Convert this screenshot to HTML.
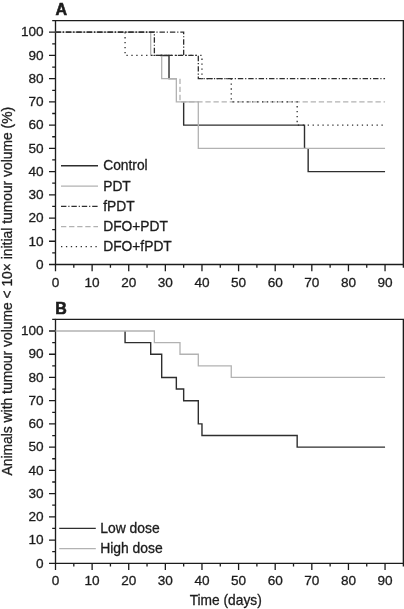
<!DOCTYPE html>
<html><head><meta charset="utf-8"><style>
html,body{margin:0;padding:0;background:#fff;}
svg{display:block;will-change:transform;opacity:0.999;filter:blur(0.3px);}
text{font-family:"Liberation Sans",sans-serif;font-size:13.6px;fill:#1c1c1c;stroke:#1c1c1c;stroke-width:0.3px;}
</style></head><body>
<svg width="404" height="609" viewBox="0 0 404 609">
<rect width="404" height="609" fill="#fff"/>
<path d="M55.5 264.5H403.36V20.59H55.5Z" fill="none" stroke="#1c1c1c" stroke-width="1.35"/>
<path d="M49 264.5H55.5M49 241.27H55.5M49 218.04H55.5M49 194.81H55.5M49 171.58H55.5M49 148.35H55.5M49 125.12H55.5M49 101.89H55.5M49 78.66H55.5M49 55.43H55.5M49 32.2H55.5M52.2 252.88H55.5M52.2 229.66H55.5M52.2 206.43H55.5M52.2 183.19H55.5M52.2 159.97H55.5M52.2 136.74H55.5M52.2 113.5H55.5M52.2 90.28H55.5M52.2 67.05H55.5M52.2 43.81H55.5M52.2 20.59H55.5M55.5 264.5V271.3M92.12 264.5V271.3M128.73 264.5V271.3M165.35 264.5V271.3M201.97 264.5V271.3M238.59 264.5V271.3M275.2 264.5V271.3M311.82 264.5V271.3M348.44 264.5V271.3M385.05 264.5V271.3M73.81 264.5V267.8M110.43 264.5V267.8M147.04 264.5V267.8M183.66 264.5V267.8M220.28 264.5V267.8M256.89 264.5V267.8M293.51 264.5V267.8M330.13 264.5V267.8M366.74 264.5V267.8M403.36 264.5V267.8" fill="none" stroke="#1c1c1c" stroke-width="1.3"/>
<text x="43.6" y="268.75" text-anchor="end">0</text>
<text x="43.6" y="245.52" text-anchor="end">10</text>
<text x="43.6" y="222.29" text-anchor="end">20</text>
<text x="43.6" y="199.06" text-anchor="end">30</text>
<text x="43.6" y="175.83" text-anchor="end">40</text>
<text x="43.6" y="152.6" text-anchor="end">50</text>
<text x="43.6" y="129.37" text-anchor="end">60</text>
<text x="43.6" y="106.14" text-anchor="end">70</text>
<text x="43.6" y="82.91" text-anchor="end">80</text>
<text x="43.6" y="59.68" text-anchor="end">90</text>
<text x="43.6" y="36.45" text-anchor="end">100</text>
<text x="55.5" y="286.5" text-anchor="middle">0</text>
<text x="92.12" y="286.5" text-anchor="middle">10</text>
<text x="128.73" y="286.5" text-anchor="middle">20</text>
<text x="165.35" y="286.5" text-anchor="middle">30</text>
<text x="201.97" y="286.5" text-anchor="middle">40</text>
<text x="238.59" y="286.5" text-anchor="middle">50</text>
<text x="275.2" y="286.5" text-anchor="middle">60</text>
<text x="311.82" y="286.5" text-anchor="middle">70</text>
<text x="348.44" y="286.5" text-anchor="middle">80</text>
<text x="385.05" y="286.5" text-anchor="middle">90</text>
<path d="M55.5 563.3H403.36V319.38H55.5Z" fill="none" stroke="#1c1c1c" stroke-width="1.35"/>
<path d="M49 563.3H55.5M49 540.07H55.5M49 516.84H55.5M49 493.61H55.5M49 470.38H55.5M49 447.15H55.5M49 423.92H55.5M49 400.69H55.5M49 377.46H55.5M49 354.23H55.5M49 331H55.5M52.2 551.68H55.5M52.2 528.45H55.5M52.2 505.22H55.5M52.2 481.99H55.5M52.2 458.76H55.5M52.2 435.53H55.5M52.2 412.3H55.5M52.2 389.07H55.5M52.2 365.84H55.5M52.2 342.61H55.5M52.2 319.38H55.5M55.5 563.3V570.1M92.12 563.3V570.1M128.73 563.3V570.1M165.35 563.3V570.1M201.97 563.3V570.1M238.59 563.3V570.1M275.2 563.3V570.1M311.82 563.3V570.1M348.44 563.3V570.1M385.05 563.3V570.1M73.81 563.3V566.6M110.43 563.3V566.6M147.04 563.3V566.6M183.66 563.3V566.6M220.28 563.3V566.6M256.89 563.3V566.6M293.51 563.3V566.6M330.13 563.3V566.6M366.74 563.3V566.6M403.36 563.3V566.6" fill="none" stroke="#1c1c1c" stroke-width="1.3"/>
<text x="43.6" y="567.55" text-anchor="end">0</text>
<text x="43.6" y="544.32" text-anchor="end">10</text>
<text x="43.6" y="521.09" text-anchor="end">20</text>
<text x="43.6" y="497.86" text-anchor="end">30</text>
<text x="43.6" y="474.63" text-anchor="end">40</text>
<text x="43.6" y="451.4" text-anchor="end">50</text>
<text x="43.6" y="428.17" text-anchor="end">60</text>
<text x="43.6" y="404.94" text-anchor="end">70</text>
<text x="43.6" y="381.71" text-anchor="end">80</text>
<text x="43.6" y="358.48" text-anchor="end">90</text>
<text x="43.6" y="335.25" text-anchor="end">100</text>
<text x="55.5" y="584.5" text-anchor="middle">0</text>
<text x="92.12" y="584.5" text-anchor="middle">10</text>
<text x="128.73" y="584.5" text-anchor="middle">20</text>
<text x="165.35" y="584.5" text-anchor="middle">30</text>
<text x="201.97" y="584.5" text-anchor="middle">40</text>
<text x="238.59" y="584.5" text-anchor="middle">50</text>
<text x="275.2" y="584.5" text-anchor="middle">60</text>
<text x="311.82" y="584.5" text-anchor="middle">70</text>
<text x="348.44" y="584.5" text-anchor="middle">80</text>
<text x="385.05" y="584.5" text-anchor="middle">90</text>
<path d="M160.22 55.43H169.01V78.66H176.34" fill="none" stroke="#2e2e2e" stroke-width="1.4"/>
<path d="M183.66 101.89H183.66V125.12H304.5V148.35H305.59" fill="none" stroke="#2e2e2e" stroke-width="1.4"/>
<path d="M308.16 148.35H308.16V171.58H385.05" fill="none" stroke="#2e2e2e" stroke-width="1.4"/>
<path d="M55.5 32.2H150.7V55.43H161.69V78.66H176.34V101.89H198.31V148.35H385.05" fill="none" stroke="#b2b2b2" stroke-width="1.3"/>
<path d="M55.5 32.2H154.37V55.43H183.66" fill="none" stroke="#2e2e2e" stroke-width="1.3" stroke-dasharray="5.4 1.9 1.2 1.9"/>
<path d="M55.5 32.2H183.66V55.43H198.31V78.66H385.05" fill="none" stroke="#2e2e2e" stroke-width="1.3" stroke-dasharray="5.4 1.9 1.2 1.9"/>
<path d="M180 78.66V101.89H385.05" fill="none" stroke="#b2b2b2" stroke-width="1.3" stroke-dasharray="5.3 2.8"/>
<path d="M125.07 32.2H125.07V55.43H201.97V78.66H231.26V101.89H297.17V125.12H385.05" fill="none" stroke="#2e2e2e" stroke-width="1.3" stroke-dasharray="1.3 3.62"/>
<path d="M61 165.7H98" fill="none" stroke="#2e2e2e" stroke-width="1.4"/>
<text x="103.2" y="170.4" style="font-size:13.8px">Control</text>
<path d="M61 186.2H98" fill="none" stroke="#b2b2b2" stroke-width="1.3"/>
<text x="103.2" y="190.9" style="font-size:13.8px">PDT</text>
<path d="M61 206.4H98" fill="none" stroke="#2e2e2e" stroke-width="1.3" stroke-dasharray="5.4 1.9 1.2 1.9"/>
<text x="103.2" y="211.1" style="font-size:13.8px">fPDT</text>
<path d="M61 226.6H98" fill="none" stroke="#b2b2b2" stroke-width="1.3" stroke-dasharray="5.3 2.8"/>
<text x="103.2" y="231.3" style="font-size:13.8px">DFO+PDT</text>
<path d="M61 246.6H98" fill="none" stroke="#2e2e2e" stroke-width="1.3" stroke-dasharray="1.3 3.62"/>
<text x="103.2" y="251.3" style="font-size:13.8px">DFO+fPDT</text>
<path d="M125.07 331H125.07V342.61H150.7V354.23H161.69V377.46H176.34V389.07H183.66V400.69H198.31V423.92H201.97V435.53H297.17V447.15H385.05" fill="none" stroke="#2e2e2e" stroke-width="1.4"/>
<path d="M55.5 331H154.37V342.61H180V354.23H198.31V365.84H231.26V377.46H385.05" fill="none" stroke="#b2b2b2" stroke-width="1.3"/>
<path d="M59.2 528.4H95.8" fill="none" stroke="#2e2e2e" stroke-width="1.4"/>
<text x="100.2" y="532.8" style="font-size:13.9px">Low dose</text>
<path d="M59.2 548.7H95.8" fill="none" stroke="#b2b2b2" stroke-width="1.3"/>
<text x="100.2" y="553.1" style="font-size:13.9px">High dose</text>
<text x="55.6" y="14.5" style="font-weight:bold;font-size:16px;stroke-width:0.6px">A</text>
<text x="55.2" y="313.7" style="font-weight:bold;font-size:16px;stroke-width:0.6px">B</text>
<text x="225.7" y="605.0" text-anchor="middle" style="font-size:13.75px">Time (days)</text>
<text transform="translate(11.8 291.2) rotate(-90)" text-anchor="middle" style="font-size:13.85px">Animals with tumour volume &lt; 10× initial tumour volume (%)</text>
</svg>
</body></html>
